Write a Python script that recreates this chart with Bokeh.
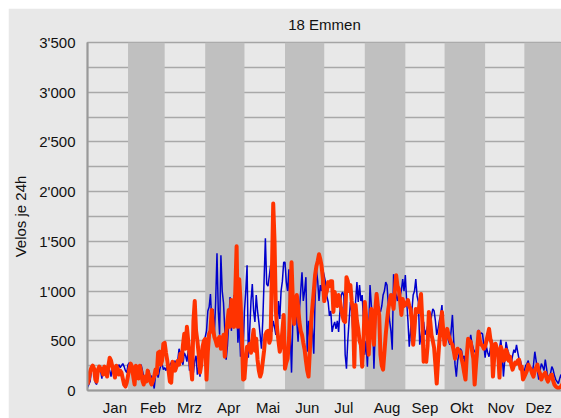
import numpy as np
from bokeh.plotting import figure
from bokeh.models import FixedTicker, Range1d
from bokeh.embed import file_html
from bokeh.resources import INLINE

title = "18 Emmen"
y_label = "Velos je 24h"
months = ["Jan", "Feb", "Mrz", "Apr", "Mai", "Jun", "Jul", "Aug", "Sep", "Okt", "Nov", "Dez"]
month_starts = [0, 31, 59, 90, 120, 151, 181, 212, 243, 273, 304, 334, 365]
month_label_days = [21, 50, 78, 108, 138, 168, 196, 229, 258, 286, 316, 345]
y_ticks = [0, 500, 1000, 1500, 2000, 2500, 3000, 3500]
y_tick_labels = ["0", "500", "1'000", "1'500", "2'000", "2'500", "3'000", "3'500"]

# daily values, one list per month (blue, thin)
blue = [
    [30, 60, 90, 200, 220, 200, 80, 60, 190, 210, 200, 120, 230, 180, 220, 150, 250, 200, 140, 230,
     200, 170, 190, 220, 260, 230, 250, 270, 240, 200, 180],
    [260, 280, 240, 200, 130, 250, 230, 170, 110, 240, 260, 200, 140, 90, 130, 170, 200, 110, 150, 100,
     20, 150, 190, 130, 200, 250, 270, 210],
    [230, 200, 250, 190, 260, 280, 250, 270, 300, 230, 300, 420, 380, 300, 260, 380, 350, 290, 400, 200,
     360, 270, 180, 300, 350, 160, 240, 140, 300, 380, 450],
    [540, 600, 800, 840, 970, 700, 820, 560, 900, 1380, 800, 560, 1360, 1000, 880, 600, 310, 450, 700, 940,
     600, 800, 960, 720, 900, 480, 690, 340, 440, 420],
    [800, 1000, 1260, 330, 600, 900, 1070, 800, 690, 960, 800, 690, 560, 420, 700, 1100, 1530, 1070, 1050, 1150,
     1260, 590, 700, 640, 560, 620, 900, 720, 1000, 1100, 1290],
    [1290, 1090, 1000, 1220, 600, 180, 700, 850, 960, 700, 490, 800, 1000, 1190, 900, 1000, 1140, 390, 700, 520,
     800, 600, 370, 920, 1220, 1100, 900, 1060, 1000, 1210],
    [1150, 1090, 950, 890, 750, 800, 590, 650, 690, 620, 700, 590, 800, 960, 990, 950, 360, 220, 500, 700,
     890, 800, 560, 700, 900, 1090, 890, 1060, 900, 960, 700],
    [360, 500, 240, 600, 1060, 860, 700, 220, 600, 990, 900, 800, 790, 850, 960, 1000, 1090, 1060, 860, 700,
     600, 410, 1170, 1000, 960, 900, 990, 950, 1010, 1120, 1000],
    [1160, 900, 700, 440, 600, 800, 960, 1000, 1120, 950, 890, 460, 550, 640, 690, 560, 600, 650, 690, 600,
     750, 820, 800, 700, 560, 620, 700, 760, 860, 600],
    [490, 520, 560, 500, 460, 600, 760, 500, 260, 140, 300, 360, 420, 400, 320, 350, 190, 300, 520, 480,
     560, 470, 420, 390, 380, 320, 610, 560, 580, 570, 460],
    [330, 440, 380, 340, 420, 510, 460, 440, 380, 400, 340, 420, 510, 380, 140, 300, 490, 420, 370, 330,
     270, 350, 410, 380, 460, 380, 310, 300, 240, 180],
    [200, 250, 270, 300, 210, 230, 170, 260, 390, 300, 200, 110, 200, 270, 240, 200, 310, 220, 110, 150,
     170, 240, 210, 150, 110, 90, 70, 120, 160, 100, 140],
]

# daily values, one list per month (red, thick)
red = [
    [60, 110, 190, 230, 250, 220, 110, 90, 210, 240, 200, 220, 160, 240, 200, 140, 250, 330, 300, 240,
     190, 130, 250, 220, 160, 200, 180, 120, 60, 40, 80],
    [150, 220, 270, 240, 140, 60, 250, 210, 120, 250, 190, 100, 60, 140, 90, 200, 150, 90, 60, 100,
     140, 210, 170, 380, 390, 260, 300, 470],
    [480, 380, 300, 200, 90, 80, 290, 250, 200, 240, 300, 260, 370, 300, 460, 570, 420, 640, 500, 370,
     250, 110, 700, 900, 600, 500, 370, 180, 260, 440, 500],
    [520, 110, 390, 570, 600, 810, 620, 540, 500, 450, 520, 540, 420, 500, 560, 340, 570, 700, 810, 640,
     910, 700, 640, 1000, 1450, 640, 1120, 900, 570, 110],
    [120, 300, 440, 420, 470, 380, 510, 610, 400, 520, 310, 200, 140, 180, 290, 400, 560, 590, 600, 480,
     520, 1200, 1880, 1500, 800, 620, 500, 390, 450, 600, 760],
    [220, 280, 320, 500, 900, 1290, 900, 670, 800, 960, 850, 690, 600, 560, 480, 410, 300, 200, 140, 400,
     690, 850, 1000, 1160, 1250, 1300, 1370, 1320, 1250, 1120],
    [900, 960, 1000, 1090, 1050, 1100, 1100, 790, 990, 900, 850, 960, 900, 820, 750, 700, 690, 1140, 1100, 1000,
     1060, 900, 790, 240, 860, 700, 620, 500, 460, 240, 500],
    [890, 750, 620, 360, 600, 820, 700, 460, 800, 970, 850, 760, 360, 250, 210, 380, 560, 700, 820, 900,
     960, 900, 820, 1000, 1160, 1050, 1020, 900, 760, 920, 850],
    [860, 880, 910, 850, 820, 700, 460, 620, 820, 800, 790, 880, 970, 690, 290, 300, 290, 450, 790, 700,
     560, 500, 430, 260, 70, 300, 490, 650, 790, 600],
    [460, 550, 620, 560, 520, 480, 460, 400, 320, 380, 420, 400, 390, 320, 260, 180, 110, 350, 520, 500,
     490, 400, 320, 60, 250, 420, 590, 500, 460, 450, 420],
    [440, 500, 560, 620, 520, 470, 140, 340, 470, 420, 370, 130, 440, 400, 300, 310, 410, 380, 300, 340,
     260, 210, 250, 280, 270, 300, 310, 220, 240, 110],
    [140, 170, 200, 260, 230, 210, 170, 140, 200, 230, 260, 200, 170, 110, 150, 160, 180, 120, 90, 120,
     150, 160, 100, 60, 40, 30, 20, 30, 40, 60, 90],
]


def series_xy(monthly):
    xs, ys = [], []
    for m, vals in enumerate(monthly):
        xs.extend(month_starts[m] + np.arange(len(vals)))
        ys.extend(vals)
    return np.array(xs, dtype=float), np.array(ys, dtype=float)


bx, by = series_xy(blue)
rx, ry = series_xy(red)

FONT = "Liberation Sans"

p = figure(width=553, height=410, output_backend="svg", toolbar_location=None,
           x_range=Range1d(0, 362.4), y_range=Range1d(0, 3500),
           min_border_left=79, min_border_right=0, min_border_top=33, min_border_bottom=27,
           background_fill_color="#e8e8e8", border_fill_color="#e8e8e8",
           outline_line_color="#a4a4a4", outline_line_width=1.5)
p.margin = (8, 0, 0, 8)

p.title.text = title
p.title.align = "center"
p.title.vertical_align = "top"
p.title.text_font = FONT
p.title.text_font_size = "15px"
p.title.text_font_style = "normal"
p.title.text_color = "#111111"
p.title.standoff = 15

# month bands (every second month dark)
dark = list(range(1, 12, 2))
p.quad(left=[month_starts[i] for i in dark], right=[month_starts[i + 1] for i in dark],
       bottom=0, top=3500, fill_color="#c0c0c0", line_color=None)

p.line(bx, by, line_color="#0000cc", line_width=1.5)
p.line(rx, ry, line_color="#ff3300", line_width=4, line_join="round")

# y axis
p.yaxis.ticker = FixedTicker(ticks=y_ticks, minor_ticks=[t + 250 for t in y_ticks[:-1]])
p.yaxis.major_label_overrides = {t: s for t, s in zip(y_ticks, y_tick_labels)}
p.yaxis.axis_label = y_label
p.yaxis.axis_label_text_font = FONT
p.yaxis.axis_label_text_font_size = "15px"
p.yaxis.axis_label_text_font_style = "normal"
p.yaxis.axis_label_text_color = "#111111"
p.yaxis.axis_label_standoff = 7
p.yaxis.major_label_text_font = FONT
p.yaxis.major_label_text_font_size = "15px"
p.yaxis.major_label_text_color = "#111111"
p.yaxis.major_label_standoff = 6
p.yaxis.major_tick_line_color = None
p.yaxis.minor_tick_line_color = None
p.yaxis.axis_line_color = "#999999"
p.yaxis.axis_line_width = 2

# x axis
p.xaxis.ticker = FixedTicker(ticks=month_label_days)
p.xaxis.major_label_overrides = {d: m for d, m in zip(month_label_days, months)}
p.xaxis.major_label_text_font = FONT
p.xaxis.major_label_text_font_size = "15px"
p.xaxis.major_label_text_color = "#111111"
p.xaxis.major_label_standoff = 2
p.xaxis.major_tick_line_color = None
p.xaxis.minor_tick_line_color = None
p.xaxis.axis_line_color = "#999999"
p.xaxis.axis_line_width = 2

p.xgrid.grid_line_color = None
p.ygrid.grid_line_color = "#a8a8a8"
p.ygrid.grid_line_width = 1.5
p.ygrid.minor_grid_line_color = "#a8a8a8"
p.ygrid.minor_grid_line_width = 1.5

open("out.html", "w").write(file_html(p, INLINE))
